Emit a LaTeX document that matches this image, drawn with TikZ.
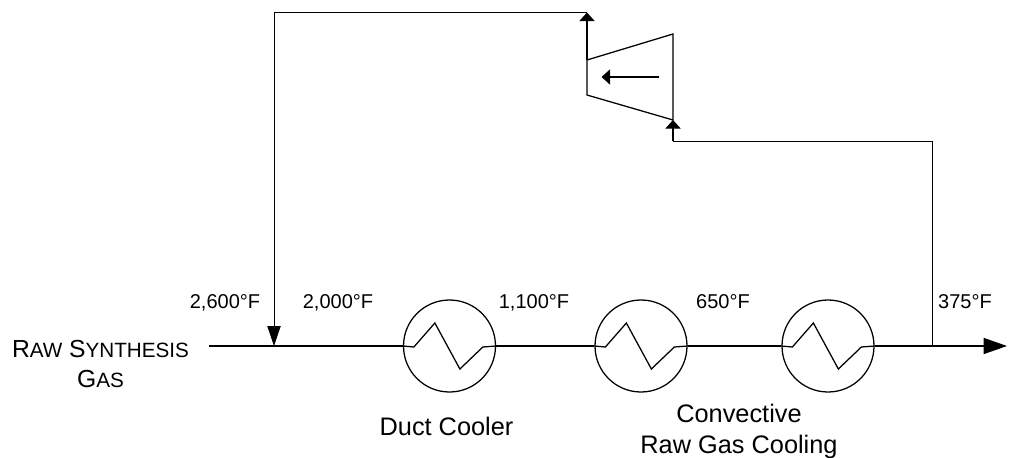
\documentclass[tikz,border=0pt]{standalone}
\usepackage{fontspec}
\setmainfont{Liberation Sans}
\usetikzlibrary{arrows.meta}
\tikzset{
  mainline/.style={line width=0.95pt},
  thinline/.style={line width=0.6pt},
  hxcircle/.style={circle,draw,line width=0.95pt,minimum size=69pt,inner sep=0pt},
  templabel/.style={inner sep=0pt,anchor=base,font=\fontsize{15}{18}\selectfont},
  unitlabel/.style={inner sep=0pt,anchor=base,font=\fontsize{19}{22}\selectfont},
  streamlabel/.style={inner sep=0pt,anchor=base,font=\fontsize{18.5}{22}\selectfont},
  smalltip/.style={-{Triangle[length=6.5pt,width=11.5pt]}}
}
\begin{document}
\begin{tikzpicture}[x=0.75pt,y=0.75pt,yscale=-1,xscale=1]
\useasboundingbox (0,0) rectangle (1021,457);

%Shape: Heat exchangers
\node [hxcircle] (hxa) at (449.5,346) {};
\node [hxcircle] (hxb) at (641,346) {};
\node [hxcircle] (hxc) at (828,346) {};
\foreach \hx in {hxa,hxb,hxc}
  \draw [mainline] (\hx.west) -- ++(11,1) -- ++(21,-24) -- ++(25,46) -- ++(23,-22) -- (\hx.east);

%Shape: Main line
\coordinate (rawin) at (209,346);
\coordinate (mixpt) at (274,346);
\coordinate (outtee) at (932,346);
\coordinate (rawout) at (1007,346);
\draw [mainline] (rawin) -- (mixpt) -- (hxa.west);
\draw [mainline] (hxa.east) -- (hxb.west);
\draw [mainline] (hxb.east) -- (hxc.west);
\draw [mainline,-{Triangle[length=17.5pt,width=12pt]}] (hxc.east) -- (outtee) -- (rawout);

%Shape: Compressor
\coordinate (compin) at (673,120);
\coordinate (compout) at (587,60);
\draw [mainline] (compout) -- (673,34) -- (compin) -- (587,95) -- cycle;
\coordinate (compafrom) at (659,77);
\coordinate (compato) at (601.5,77);
\draw [mainline,smalltip] (compafrom) -- (compato);

%Shape: Recycle lines
\coordinate (toptip) at (587,12.5);
\draw [mainline,smalltip] (compout) -- (toptip);
\draw [thinline,-{Triangle[length=15pt,width=10pt]}] (toptip) -- (274,12.5) -- (mixpt);
\draw [thinline] (outtee) -- (932,141) -- (673,141);
\draw [mainline,smalltip] (673,141) -- (compin);

% Text Node
\node [templabel] (t2600) at (225,308) {2,600°F};
\node [templabel] (t2000) at (338,308) {2,000°F};
\node [templabel] (t1100) at (534,308) {1,100°F};
\node [templabel] (t650) at (723,308) {650°F};
\node [templabel] (t375) at (965,308) {375°F};
\node [unitlabel] (duct) at (446.5,435) {Duct Cooler};
\node [unitlabel] (conv) at (739,422) {Convective};
\node [unitlabel] (rawgas) at (739,453) {Raw Gas Cooling};
\node [streamlabel] (rawa) at (100.5,357) {R{\fontsize{15.5}{18}\selectfont AW} S{\fontsize{15.5}{18}\selectfont YNTHESIS}};
\node [streamlabel] (rawb) at (100.5,387) {G{\fontsize{15.5}{18}\selectfont AS}};
\end{tikzpicture}
\end{document}
